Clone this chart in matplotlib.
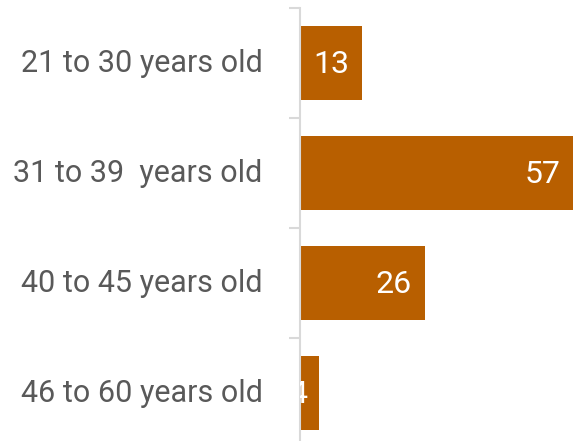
import numpy as np
import matplotlib
matplotlib.use("Agg")
import matplotlib.pyplot as plt
import matplotlib.transforms as mtransforms

plt.rcParams['font.family'] = ['Roboto', 'DejaVu Sans']

categories = ['21 to 30 years old', '31 to 39  years old',
              '40 to 45 years old', '46 to 60 years old']
values = [13, 57, 26, 4]

bar_color = '#b85f00'
label_color = '#595959'
axis_color = '#d9d9d9'

fig = plt.figure(figsize=(5.73, 4.41), dpi=100)
ax = fig.add_axes([300 / 573, -7 / 441, 273 / 573, 440 / 441])

ind = np.arange(len(categories))
bars = ax.barh(ind, values, height=0.665, color=bar_color)

ax.set_xlim(0, 57)
ax.set_ylim(len(categories) - 0.5, -0.5)

# category boundaries as tick marks, labels on minor ticks
ax.set_yticks(np.arange(len(categories) + 1) - 0.5)
ax.set_yticklabels([])
ax.set_yticks(ind, minor=True)
ax.set_yticklabels(categories, minor=True, fontsize=22, color=label_color)
ax.tick_params(axis='y', which='major', length=8, width=1.5, color=axis_color)
ax.tick_params(axis='y', which='minor', length=0, pad=27)
shift = mtransforms.ScaledTranslation(0, 3 / 100, fig.dpi_scale_trans)
for lab in ax.get_yticklabels(minor=True):
    lab.set_transform(lab.get_transform() + shift)

ax.set_xticks([])
for side in ['top', 'right', 'bottom']:
    ax.spines[side].set_visible(False)
ax.spines['left'].set_color(axis_color)
ax.spines['left'].set_linewidth(1.5)
ax.set_facecolor('none')

# value labels inside bar ends
for rect, v in zip(bars, values):
    ax.annotate(str(v), (v, rect.get_y() + rect.get_height() / 2),
                xytext=(-9, -1), textcoords='offset points',
                ha='right', va='center', color='white', fontsize=23,
                annotation_clip=False, clip_on=True)

fig.savefig('out.png', dpi=100)
